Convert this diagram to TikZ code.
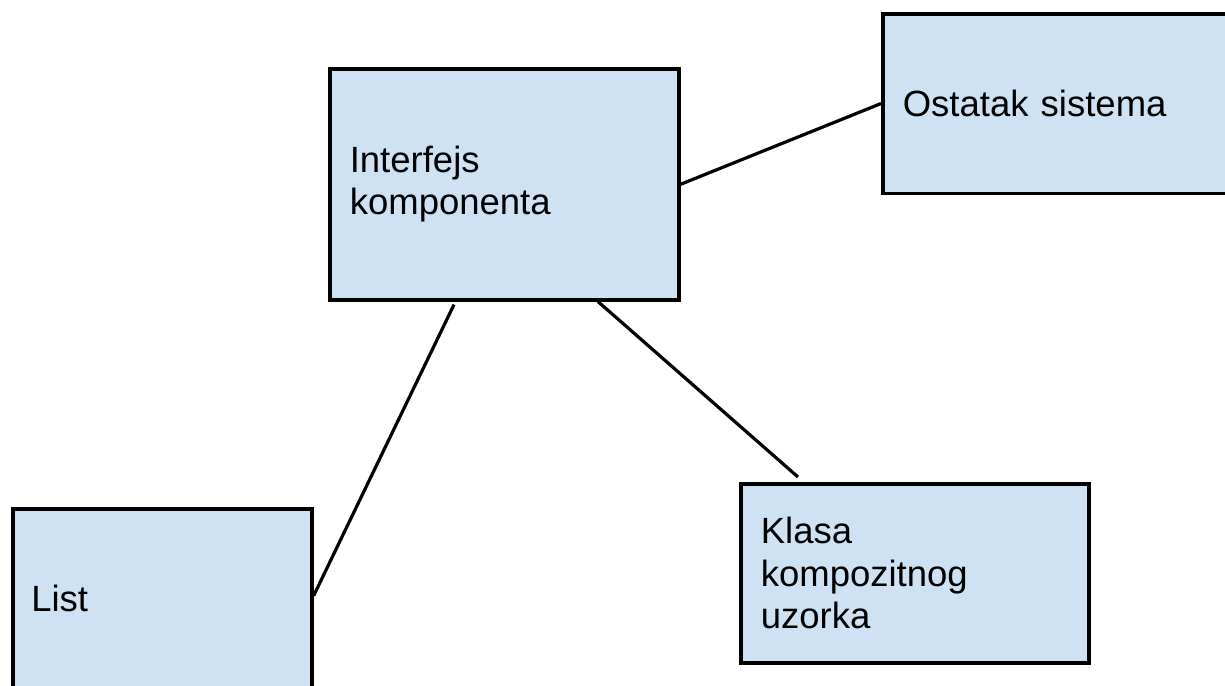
\documentclass[tikz,border=0pt]{standalone}
\usepackage{fontspec}
\setmainfont{Liberation Sans}
\begin{document}
\begin{tikzpicture}[x=1pt,y=-1pt,
  box/.style={draw=black, fill=boxblue, line width=3.6pt, rectangle,
    anchor=north west, inner sep=0pt, align=left,
    font=\fontsize{36.5}{42.5}\selectfont},
  link/.style={draw=black, line width=3.2pt}]
\definecolor{boxblue}{HTML}{CFE2F3}
\clip (0,0) rectangle (1225,685);
\fill[white] (0,0) rectangle (1225,685);

% boxes: minimum size is the border path, text set with a 20pt left pad
\node[box, minimum width=349pt, minimum height=231pt, text width=309pt]
  (I) at (328,67) {Interfejs\\komponenta};
\node[box, minimum width=360pt, minimum height=179.5pt, text width=320pt]
  (O) at (881,12) {Ostatak sistema};
\node[box, minimum width=299pt, minimum height=180pt, text width=262pt]
  (L) at (11,507) {List};
\node[box, minimum width=348pt, minimum height=179pt, text width=308pt]
  (K) at (739,482) {Klasa\\kompozitnog\\uzorka};

% connectors
\draw[link] (I.east) -- (O.west);
\draw[link] ([xshift=126pt,yshift=-3pt]I.south west) -- ([yshift=3pt]L.east);
\draw[link] ([xshift=270pt]I.south west) -- ([xshift=59pt,yshift=5pt]K.north west);
\end{tikzpicture}
\end{document}
